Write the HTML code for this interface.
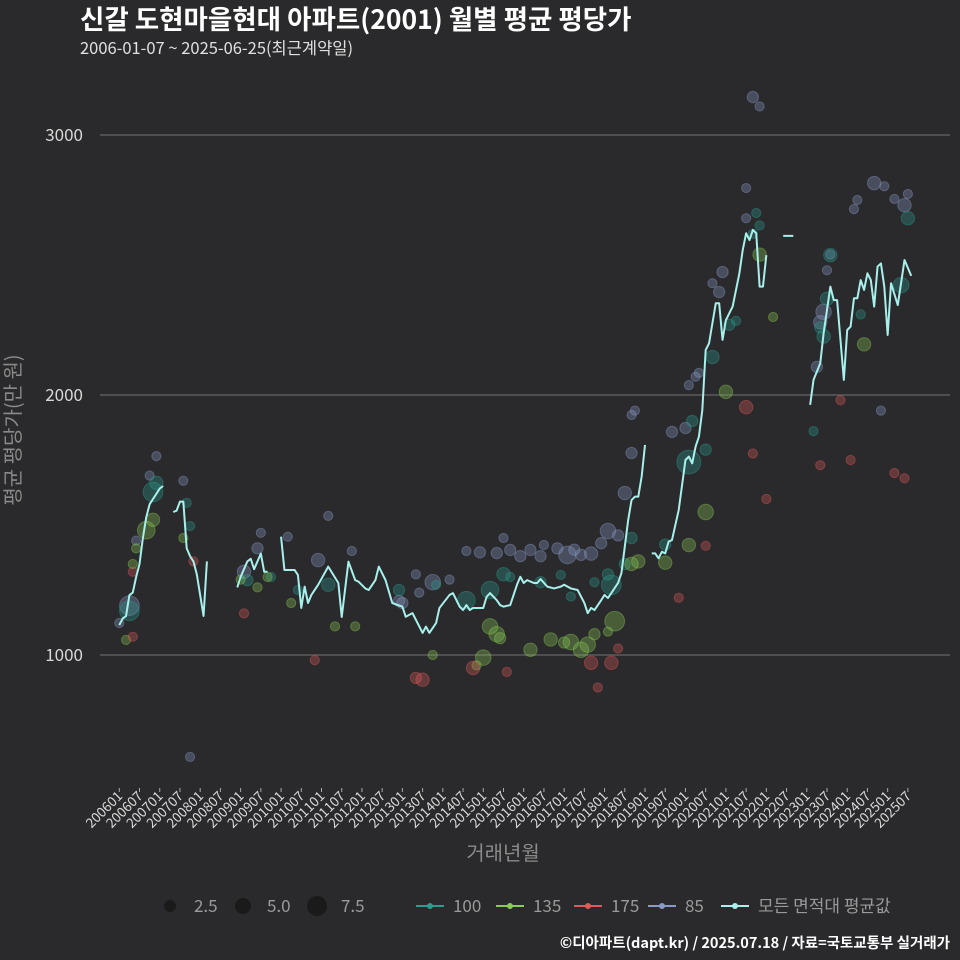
<!DOCTYPE html>
<html><head><meta charset="utf-8">
<style>
html,body{margin:0;padding:0;background:#2a2a2c;}
svg{display:block;font-family:"Noto Sans CJK KR","Liberation Sans",sans-serif;}
</style></head>
<body>
<svg id="chart" width="960" height="960" viewBox="0 0 960 960">
<rect width="960" height="960" fill="#2a2a2c"/>
<text x="80" y="29" fill="#ffffff" font-size="26.5" font-weight="bold">신갈 도현마을현대 아파트(2001) 월별 평균 평당가</text>
<text x="80" y="54" fill="#e0e0e0" font-size="16.5">2006-01-07 ~ 2025-06-25(최근계약일)</text>
<g id="grid"></g>
<g id="yticks"></g>
<g id="xticks"></g>
<g id="bubbles"></g>
<g id="line"></g>
<text transform="translate(20,430) rotate(-90)" text-anchor="middle" fill="#8a8a8a" font-size="20">평균 평당가(만 원)</text>
<text x="503" y="860" text-anchor="middle" fill="#8a8a8a" font-size="20">거래년월</text>
<g id="legend"></g>
<text x="950" y="948" text-anchor="end" fill="#ffffff" font-size="14.5" font-weight="bold">©디아파트(dapt.kr) / 2025.07.18 / 자료=국토교통부 실거래가</text>
</svg>
<script>
const yTicks=[1000,2000,3000];
const xTickLabels=[];
for(let y=2006;y<=2025;y++){xTickLabels.push(y+"01");xTickLabels.push(y+"07");}
const lineSeg1=[[0,1115],[1,1140],[2,1150],[3,1230],[4,1240],[5,1300],[6,1350],[7,1450],[8,1530],[9,1580],[10,1600],[11,1620],[12,1640],[13,1650]];
const lineSeg2=[[16,1550],[17,1555],[18,1590],[19,1590],[20,1410],[21,1380],[22,1360],[23,1310],[24,1230],[25,1150],[26,1360]];
const lineSeg3=[[35,1260],[36,1300],[37,1330],[38,1360],[39,1370],[40,1330],[41,1360],[42,1390],[43,1320],[44,1320]];
const lineSeg4=[[48,1455],[49,1327],[52,1327],[53,1308],[54,1181],[55,1263],[56,1200],[57,1231],[59,1270],[62,1340],[65,1277],[66,1146],[68,1359],[70,1288],[71,1282],[73,1256],[74,1250],[76,1288],[77,1340],[79,1288],[81,1200],[84,1186],[85,1147],[87,1161],[90,1085],[91,1109],[92,1085],[94,1123],[95,1181],[98,1231],[99,1238],[101,1186],[102,1173],[103,1192],[104,1173],[105,1181],[108,1181],[109,1224],[110,1238],[112,1211],[113,1192],[114,1186],[116,1192],[118,1270],[119,1301],[120,1277],[121,1288],[123,1277],[124,1277],[125,1292],[127,1263],[129,1256],[131,1263],[132,1270],[134,1256],[136,1250],[138,1200],[139,1161],[140,1181],[141,1173],[143,1211],[144,1231],[145,1219],[146,1238],[148,1277],[149,1315],[151,1519],[152,1596],[153,1609],[154,1609],[155,1686],[156,1808]];
const lineSeg5=[[158,1391],[159,1391],[160,1372],[161,1397],[162,1391],[163,1436],[164,1442],[166,1558],[168,1750],[169,1763],[170,1737],[171,1801],[172,1840],[173,1942],[174,2173],[175,2199],[176,2276],[177,2353],[178,2353],[179,2212],[180,2288],[181,2314],[182,2340],[184,2468],[185,2558],[186,2622],[187,2596],[188,2635],[189,2622],[190,2417],[191,2417],[192,2538]];
const lineSeg6=[[197,2612],[200,2612]];
const lineSeg7=[[205,1962],[206,2058],[208,2122],[209,2238],[211,2417],[212,2365],[213,2365],[215,2058],[216,2250],[217,2263],[218,2372],[219,2372],[220,2442],[221,2404],[222,2468],[223,2442],[224,2340],[225,2494],[226,2506],[227,2417],[228,2231],[229,2430],[231,2346],[233,2519],[235,2458]];
const b85=[[0,1123,2],[3,1190,7],[5,1440,2],[9,1690,2],[11,1765,2],[19,1670,2],[21,608,2],[37,1320,4],[41,1410,3],[42,1470,2],[50,1455,2],[59,1365,4],[62,1535,2],[69,1400,2],[83,1208,3],[84,1200,3],[88,1310,2],[89,1240,2],[93,1280,5],[98,1290,2],[103,1400,2],[107,1395,3],[112,1392,3],[114,1450,2],[116,1404,3],[119,1380,3],[122,1404,3],[125,1380,3],[126,1423,2],[130,1410,3],[133,1385,6],[135,1405,3],[137,1385,3],[140,1390,4],[143,1430,3],[145,1477,5],[148,1460,3],[150,1623,4],[152,1777,3],[152,1923,2],[153,1940,2],[164,1858,3],[168,1873,3],[169,2038,2],[171,2070,2],[172,2085,2],[178,2396,3],[179,2473,3],[176,2430,2],[186,2680,2],[186,2796,2],[188,3146,3],[190,3110,2],[208,2280,4],[209,2320,5],[210,2480,2],[211,2540,2],[218,2715,2],[219,2750,2],[224,2815,4],[227,2803,2],[230,2754,2],[233,2730,4],[234,2773,2],[226,1940,2],[207,2108,3]];
const b100=[[3,1170,7],[10,1627,7],[11,1662,4],[20,1585,2],[21,1496,2],[38,1288,3],[45,1300,2],[53,1250,2],[62,1270,4],[83,1250,3],[94,1270,2],[103,1211,6],[110,1250,6],[114,1311,4],[116,1300,2],[125,1280,3],[131,1308,2],[134,1225,2],[141,1280,2],[146,1270,7],[145,1310,3],[150,1350,3],[152,1450,3],[162,1425,3],[169,1742,9],[174,1790,3],[170,1900,3],[176,2146,4],[181,2270,3],[183,2285,2],[190,2652,2],[189,2700,2],[188,2620,2],[206,1861,2],[209,2225,4],[211,2538,4],[210,2370,4],[208,2260,3],[234,2680,4],[232,2423,5],[220,2310,2]];
const b135=[[2,1058,2],[5,1410,2],[4,1350,2],[8,1480,6],[10,1520,4],[19,1450,2],[36,1290,2],[41,1260,2],[44,1300,2],[51,1200,2],[64,1110,2],[70,1110,2],[93,1000,2],[106,960,2],[110,1110,5],[112,1080,5],[113,1065,3],[108,990,5],[122,1020,4],[128,1060,4],[132,1048,3],[134,1050,5],[137,1020,5],[139,1040,5],[141,1080,3],[145,1090,2],[147,1130,7],[152,1350,4],[154,1360,4],[162,1355,4],[169,1423,4],[174,1550,5],[180,2012,4],[190,2540,4],[194,2300,2],[221,2195,4]];
const b175=[[4,1070,2],[4,1320,2],[22,1360,2],[37,1160,2],[58,980,2],[88,912,3],[90,905,4],[105,950,4],[115,935,2],[140,970,4],[146,970,4],[142,875,2],[148,1025,2],[166,1220,2],[174,1420,2],[186,1953,4],[188,1775,2],[192,1600,2],[208,1730,2],[214,1980,2],[217,1750,2],[230,1700,2],[233,1680,2]];
const X0=119.3,XM=3.37,Y0=655,YS=0.26;
function xs(m){return X0+m*XM;}
function ys(v){return Y0-(v-1000)*YS;}
const NS="http://www.w3.org/2000/svg";
function mk(t,a,p){const e=document.createElementNS(NS,t);for(const k in a)e.setAttribute(k,a[k]);p.appendChild(e);return e;}
const grid=document.getElementById('grid'),yt=document.getElementById('yticks'),xt=document.getElementById('xticks');
yTicks.forEach(v=>{
 const l=mk('line',{x1:100,x2:950,y1:ys(v),y2:ys(v),stroke:'#666666','stroke-width':1.2},grid);
 
 
 const t=mk('text',{x:83,y:ys(v)+6,'text-anchor':'end',fill:'#d8d8d8','font-size':17},yt);
 t.textContent=v;
 
 
});
xTickLabels.forEach((s,i)=>{
 const x=xs(i*6);
 const tk=mk('line',{x1:x,x2:x,y1:788,y2:792,stroke:'#aaaaaa','stroke-width':1},xt);
 
 
 const t=mk('text',{transform:`translate(${x+4},${797}) rotate(-45)`,'text-anchor':'end',fill:'#d8d8d8','font-size':13.5},xt);
 t.textContent=s;
 
 
});
const bg=document.getElementById('bubbles');
const cats=[[b85,'#8a9ac8'],[b100,'#2a9d8f'],[b135,'#8acb55'],[b175,'#e05a5a']];
function rad(s){return 2.5+s*1.05;}
cats.forEach(([arr,col])=>{arr.forEach(d=>{
 const c=mk('circle',{cx:xs(d[0]),cy:ys(d[1]),r:rad(d[2]),fill:col,'fill-opacity':0.32,stroke:col,'stroke-opacity':0.4,'stroke-width':1},bg);
 
 
});});
const lg=document.getElementById('line');
[lineSeg1,lineSeg2,lineSeg3,lineSeg4,lineSeg5,lineSeg6,lineSeg7].forEach(seg=>{
 const p=mk('polyline',{points:seg.map(d=>xs(d[0])+','+ys(d[1])).join(' '),fill:'none',stroke:'#a8f0ec','stroke-width':2,'stroke-linejoin':'round'},lg);
 
 
});
const L=document.getElementById('legend');
[[170,6,'2.5'],[243,8,'5.0'],[317,10,'7.5']].forEach(([x,r,s])=>{
 const c=mk('circle',{cx:x,cy:906,r:r,fill:'#1a1a1a'},L);
 
 
 const t=mk('text',{x:x+24,y:912,fill:'#9a9a9a','font-size':17},L);t.textContent=s;
 
 
});
[[430,'#2a9d8f','100'],[510,'#8acb55','135'],[588,'#e05a5a','175'],[662,'#8a9ac8','85'],[735,'#a8f0ec','모든 면적대 평균값']].forEach(([x,col,s])=>{
 const g=mk('g',{},L);
 
 
 mk('line',{x1:x-14,x2:x+14,y1:906,y2:906,stroke:col,'stroke-width':2},g);
 mk('circle',{cx:x,cy:906,r:3,fill:col},g);
 const t=mk('text',{x:x+23,y:912,fill:'#9a9a9a','font-size':17},g);t.textContent=s;
});
</script>
</body></html>
